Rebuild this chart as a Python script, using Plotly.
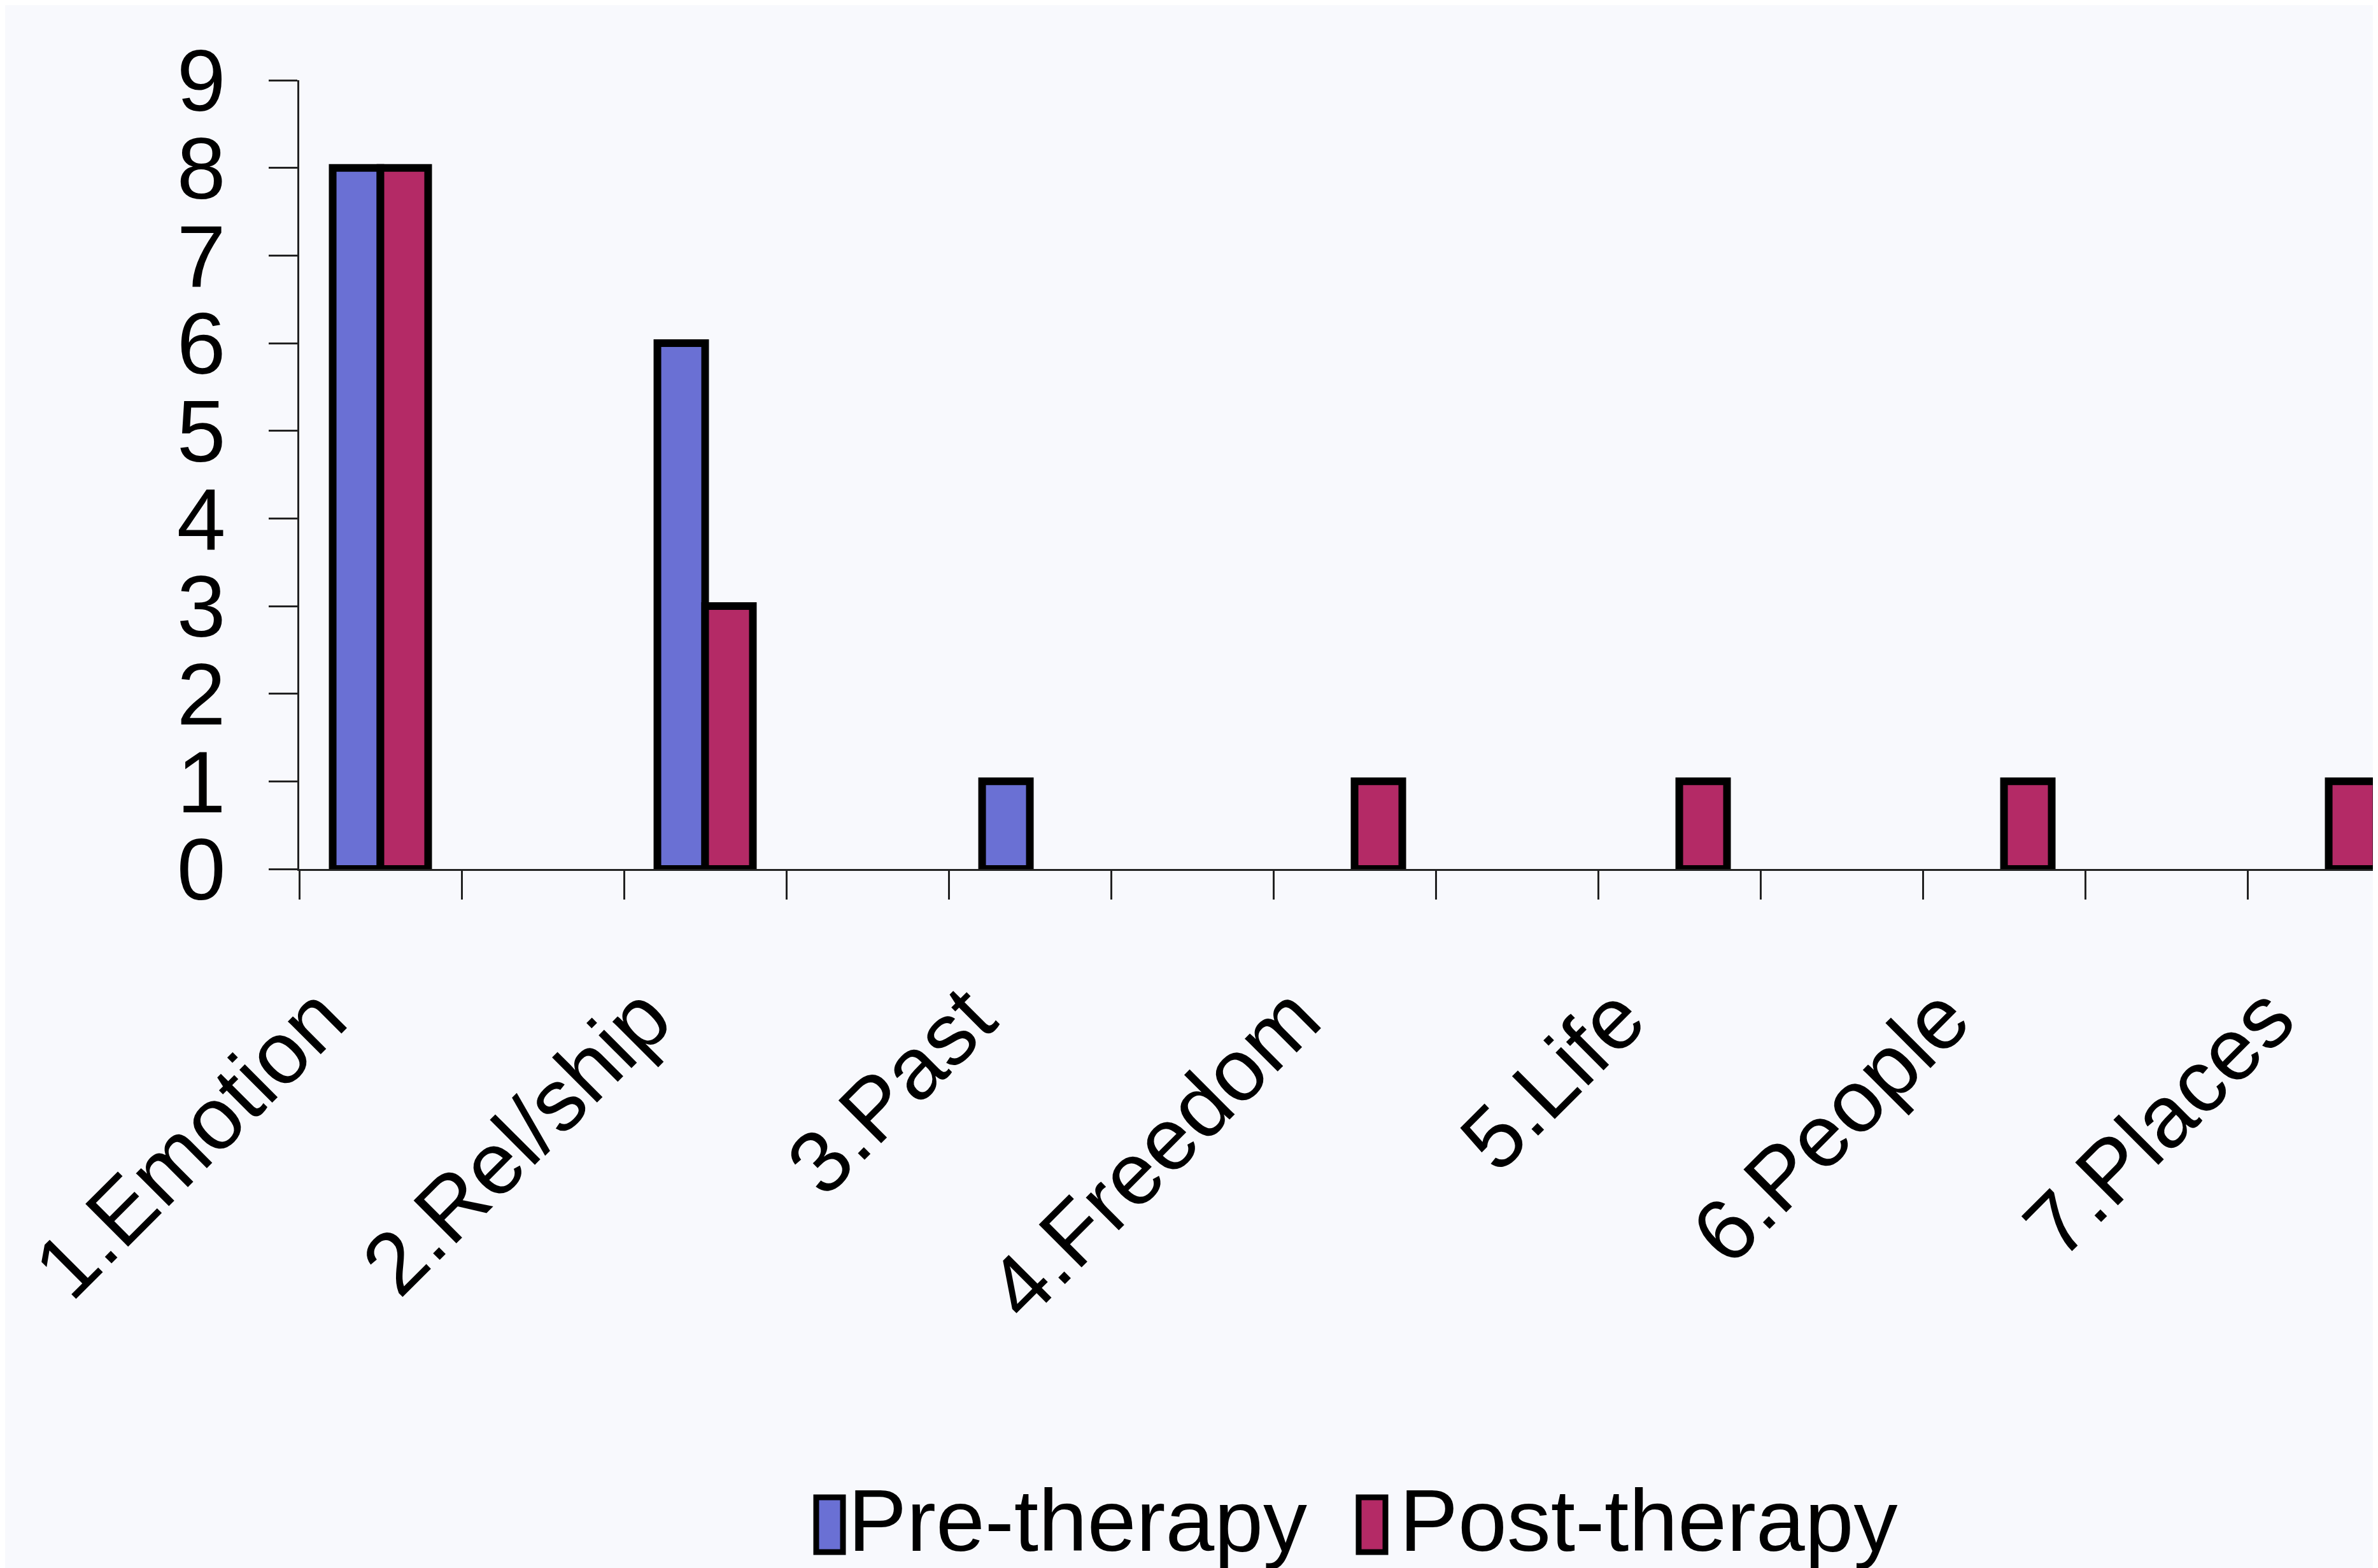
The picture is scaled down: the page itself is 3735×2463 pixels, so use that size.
import plotly.graph_objects as go

# ---- data ----
categories = ["1.Emotion", "2.Rel/ship", "3.Past", "4.Freedom", "5.Life", "6.People", "7.Places"]
pre_therapy = [8, 6, 1, 0, 0, 0, 0]
post_therapy = [8, 3, 0, 1, 1, 1, 1]
y_ticks = [0, 1, 2, 3, 4, 5, 6, 7, 8, 9]
series_names = ["Pre-therapy", "Post-therapy"]

# ---- styling ----
W, H = 3735, 2463
L, R, T, B = 462, 0, 118, 1106
PRE_COLOR = "#6a70d4"
POST_COLOR = "#b42a66"
BG = "#f8f9fd"
FONT = "Liberation Sans, Arial, sans-serif"
FS = 138
BAR_W = 0.294

# each labelled category occupies every second slot on the category axis
xpos = [2 * i for i in range(len(categories))]


def nz(vals):
    return [v if v else None for v in vals]


fig = go.Figure()
fig.add_trace(go.Bar(x=xpos, y=nz(pre_therapy), name=series_names[0],
                     width=BAR_W, offset=-BAR_W,
                     marker=dict(color=PRE_COLOR, line=dict(color="black", width=12)),
                     showlegend=False))
fig.add_trace(go.Bar(x=xpos, y=nz(post_therapy), name=series_names[1],
                     width=BAR_W, offset=0,
                     marker=dict(color=POST_COLOR, line=dict(color="black", width=12)),
                     showlegend=False))

pw = W - L - R
ph = H - T - B


def px2x(p):
    return (p - L) / pw


def py2y(p):
    return (H - B - p) / ph


# custom legend (Excel-style tall keys)
legend_items = [(series_names[0], PRE_COLOR, 1274, 1322), (series_names[1], POST_COLOR, 2126, 2188)]
for name, col, kx, tx in legend_items:
    fig.add_shape(type="rect", xref="paper", yref="paper",
                  x0=px2x(kx), x1=px2x(kx + 42), y0=py2y(2430), y1=py2y(2344),
                  fillcolor=col, line=dict(color="black", width=9))
    fig.add_annotation(xref="paper", yref="paper", x=px2x(tx), y=py2y(2380),
                       xanchor="left", yanchor="middle", text=name, showarrow=False,
                       font=dict(family=FONT, size=FS, color="black"))

fig.update_layout(
    width=W, height=H,
    margin=dict(l=L, r=R, t=T, b=B, pad=0),
    paper_bgcolor=BG, plot_bgcolor=BG,
    barmode="overlay",
    font=dict(family=FONT, size=FS, color="black"),
)
fig.update_xaxes(
    range=[-0.5, 12.335],
    tickmode="array", tickvals=xpos, ticktext=categories,
    tickangle=-45, ticks="", ticklen=0,
    ticklabelstandoff=95, ticklabelshift=-95,
    tickfont=dict(family=FONT, size=FS, color="black"),
    showline=True, linecolor="#222", linewidth=3,
    showgrid=False, zeroline=False,
    minor=dict(tickmode="array", tickvals=[k - 0.5 for k in range(14)],
               ticks="outside", ticklen=45, tickwidth=3, tickcolor="#222", showgrid=False),
)
fig.update_yaxes(
    range=[0, 9],
    tickmode="array", tickvals=y_ticks,
    ticks="outside", ticklen=45, tickwidth=3, tickcolor="#222",
    ticklabelstandoff=40,
    tickfont=dict(family=FONT, size=FS, color="black"),
    showline=True, linecolor="#222", linewidth=3,
    showgrid=False, zeroline=False,
)

fig.write_html("out.html")
